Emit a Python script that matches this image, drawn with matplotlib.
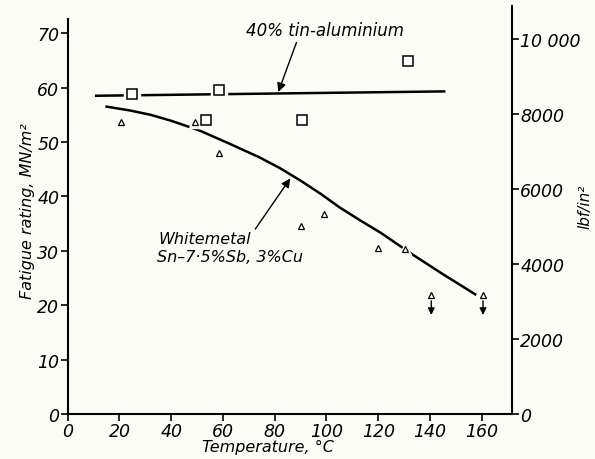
import matplotlib.pyplot as plt
import numpy as np

# data (MN/m^2 vs temperature, degC)
sq_t = [25, 53.5, 58.5, 90.5, 131.5]
sq_s = [58.8, 54.0, 59.6, 54.0, 64.8]

tri_t = [20.5, 49, 58.5, 90, 99, 120, 130.5, 140.5, 160.5]
tri_s = [53.7, 53.7, 48.0, 34.6, 36.7, 30.6, 30.4, 21.9, 21.9]
lim_t = [140.5, 160.5]   # points shown with a "below" arrow

tinal_t = [11, 145.5]
tinal_s = [58.5, 59.3]

wm_t = [15, 24, 32, 40, 51, 62, 74, 82, 90, 98, 105, 113, 121, 133, 145, 157.5]
wm_s = [56.5, 55.8, 55.0, 53.9, 52.1, 49.8, 47.2, 45.2, 42.9, 40.4, 38.0, 35.6,
        33.3, 29.4, 25.7, 22.0]

PSI = 145.038  # lbf/in^2 per MN/m^2
bg = '#fcfcf7'

plt.rcParams['font.family'] = 'DejaVu Sans'
plt.rcParams['font.style'] = 'italic'

fig = plt.figure(figsize=(5.95, 4.60), dpi=100, facecolor=bg)
ax = fig.add_axes([0.1138, 0.0978, 0.7467, 0.887])
ax.set_facecolor(bg)

ax.plot(tinal_t, tinal_s, color='black', lw=1.8, zorder=2)
ax.plot(wm_t, wm_s, color='black', lw=1.8, zorder=2, solid_joinstyle='round')

# white halos so the lines break at markers
ax.plot(sq_t, sq_s, ls='none', marker='s', ms=11, mfc=bg, mec=bg, zorder=3)
ax.plot(tri_t, tri_s, ls='none', marker='^', ms=9, mfc=bg, mec=bg, zorder=3)
ax.plot(sq_t, sq_s, ls='none', marker='s', ms=7, mfc='white', mec='black', mew=1.1, zorder=4)
ax.plot(tri_t, tri_s, ls='none', marker='^', ms=5, mfc='white', mec='black', mew=0.9, zorder=4)

for t in lim_t:
    ax.annotate('', xy=(t, 18.2), xytext=(t, 20.8),
                arrowprops=dict(arrowstyle='-|>', color='black', lw=1.0,
                                mutation_scale=10, shrinkA=0, shrinkB=0))

ax.annotate('', xy=(81.4, 59.2), xytext=(88.4, 68.3),
            arrowprops=dict(arrowstyle='-|>', color='black', lw=1.0,
                            mutation_scale=13, shrinkA=0, shrinkB=0))
ax.text(69, 70.6, '40% tin-aluminium', fontsize=12, va='center', ha='left')

ax.annotate('', xy=(86, 43.3), xytext=(72.5, 34.0),
            arrowprops=dict(arrowstyle='-|>', color='black', lw=1.0,
                            mutation_scale=13, shrinkA=0, shrinkB=0))
ax.text(35, 32.3, 'Whitemetal', fontsize=11.5, va='center', ha='left')
ax.text(34.5, 29.0, 'Sn\u20137\u00b75%Sb, 3%Cu', fontsize=11.5, va='center', ha='left')

ax.set_xlim(0, 171.7)
ax.set_ylim(0, 75)
ax.set_xticks(np.arange(0, 161, 20))
ax.set_yticks(np.arange(0, 71, 10))
ax.spines['top'].set_visible(False)
ax.spines['right'].set_visible(False)
ax.spines['left'].set_bounds(0, 72.6)
for s in ('left', 'bottom'):
    ax.spines[s].set_linewidth(1.5)
ax.tick_params(axis='both', direction='out', length=5, width=1.2, labelsize=12.5, pad=1)
ax.set_xlabel('Temperature, \u00b0C', fontsize=11.5)
ax.xaxis.set_label_coords(0.45, -0.062)
ax.set_ylabel('Fatigue rating, MN/m\u00b2', fontsize=11.5, labelpad=2)

ax2 = ax.twinx()
ax2.set_ylim(0, 75 * PSI)
ax2.set_yticks(np.arange(0, 10001, 2000))
ax2.set_yticklabels(['0', '2000', '4000', '6000', '8000', '10 000'])
for s in ('top', 'left', 'bottom'):
    ax2.spines[s].set_visible(False)
ax2.spines['right'].set_linewidth(1.5)
ax2.tick_params(axis='y', direction='out', length=5, width=1.2, labelsize=12.5, pad=1)
ax2.set_ylabel('lbf/in\u00b2', fontsize=11, rotation=90)
ax2.yaxis.set_label_coords(1.148, 0.51)

fig.savefig('out.png', dpi=100, facecolor=bg)
